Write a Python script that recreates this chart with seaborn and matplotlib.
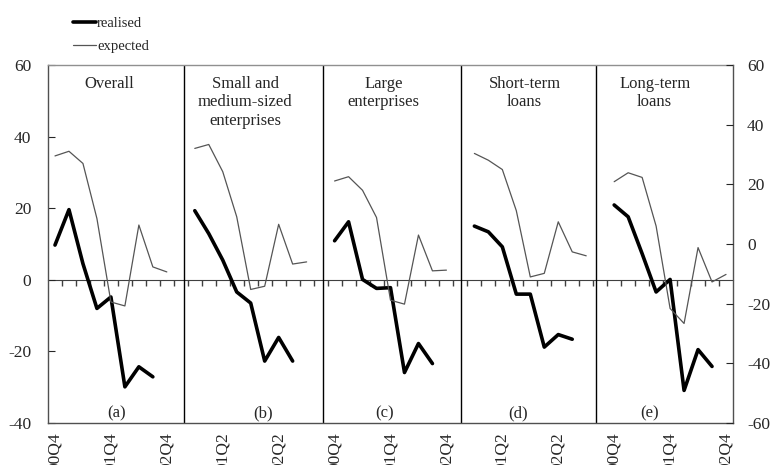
import numpy as np
import pandas as pd
import seaborn as sns
import matplotlib.pyplot as plt

# quarters shown in each panel (one blank slot between panels)
quarters = ["00Q4", "01Q1", "01Q2", "01Q3", "01Q4", "02Q1", "02Q2", "02Q3", "02Q4"]
panel_titles = ["Overall", "Small and\nmedium-sized\nenterprises",
                "Large\nenterprises", "Short-term\nloans", "Long-term\nloans"]
panel_letters = ["(a)", "(b)", "(c)", "(d)", "(e)"]

# realised (to 02Q3) and expected (to 02Q4) net percentages
realised_overall = [9.7, 19.6, 4.5, -8.0, -4.8, -29.9, -24.3, -27.1]
expected_overall = [34.6, 35.9, 32.5, 17.1, -6.2, -7.3, 15.3, 3.6, 2.2]
realised_sme = [19.3, 12.9, 5.5, -3.4, -6.5, -22.7, -16.1, -22.7]
expected_sme = [36.7, 37.8, 30.2, 17.6, -2.7, -1.8, 15.5, 4.4, 5.0]
realised_large = [10.9, 16.2, 0.1, -2.4, -2.2, -25.9, -17.8, -23.4]
expected_large = [27.6, 28.8, 25.0, 17.4, -5.7, -6.8, 12.5, 2.5, 2.7]
realised_short = [15.0, 13.4, 9.2, -4.0, -4.0, -18.8, -15.3, -16.6]
expected_short = [35.3, 33.4, 30.8, 19.3, 0.8, 1.8, 16.2, 7.8, 6.7]
realised_long = [20.9, 17.6, 7.3, -3.4, 0.1, -30.9, -19.5, -24.2]
expected_long = [27.4, 29.9, 28.6, 15.0, -8.0, -12.2, 9.0, -0.6, 1.5]

realised_all = [realised_overall, realised_sme, realised_large, realised_short, realised_long]
expected_all = [expected_overall, expected_sme, expected_large, expected_short, expected_long]

slots_per_panel = 10
n_slots = 4 * slots_per_panel + len(quarters)

rows = []
for p in range(len(panel_titles)):
    for name, values in (("realised", realised_all[p]), ("expected", expected_all[p])):
        for j, v in enumerate(values):
            rows.append({"panel": p, "series": name,
                         "slot": p * slots_per_panel + j, "value": v})
df = pd.DataFrame(rows)

slot_labels = []
for s in range(n_slots):
    j = s % slots_per_panel
    slot_labels.append(quarters[j] if j < len(quarters) else "")
label_slots = list(range(0, n_slots, 4))

sns.set_style("white")
plt.rcParams["font.family"] = ["Liberation Serif", "DejaVu Serif"]
plt.rcParams["axes.unicode_minus"] = False

fig = plt.figure(figsize=(7.73, 4.65), dpi=100)
ax = fig.add_axes([48 / 773, 42 / 465, 685 / 773, 358 / 465])

sns.lineplot(data=df, x="slot", y="value", hue="series", size="series",
             units="panel", estimator=None, hue_order=["realised", "expected"],
             palette={"realised": "black", "expected": "#555555"},
             sizes={"realised": 2.6, "expected": 0.9}, ax=ax)

ax.set_xlim(-0.5, n_slots - 0.5)
ax.set_ylim(-40, 60)
ax.set_yticks(range(-40, 61, 20))
ax.set_xlabel("")
ax.set_ylabel("")
ax.set_xticks(label_slots, [slot_labels[s] for s in label_slots], rotation=90)
ax.tick_params(axis="x", length=0, pad=7, labelsize=12.5)
ax.tick_params(axis="y", direction="in", length=5, pad=12, labelsize=12.5,
               left=True)
for sp in ax.spines.values():
    sp.set_color("#505050")
    sp.set_linewidth(1)
ax.spines["top"].set_color("#909090")

# zero line with category tick marks
zero_pos = (0 - (-40)) / (60 - (-40))
sec = ax.secondary_xaxis(zero_pos)
sec.set_xticks(np.arange(0.5, n_slots - 1, 1.0), labels=[])
sec.tick_params(direction="out", length=4, color="#404040", width=1)
sec.spines["bottom"].set_color("#404040")

# right-hand axis
ax2 = ax.twinx()
ax2.set_ylim(-60, 60)
ax2.set_yticks(range(-60, 61, 20))
ax2.tick_params(axis="y", direction="in", length=5, pad=10, labelsize=12.5,
                right=True)
for sp in ax2.spines.values():
    sp.set_visible(False)

# panel separators, titles and letters
for xs in [9.2, 19.15, 29.05, 38.7]:
    ax.axvline(xs, color="black", lw=1)
title_x = [3.9, 13.6, 23.5, 33.6, 42.9]
letter_x = [4.4, 14.9, 23.6, 33.1, 42.5]
for p in range(len(panel_titles)):
    ax.text(title_x[p], 57.0, panel_titles[p], ha="center", va="top",
            fontsize=12, linespacing=1.2)
    ax.text(letter_x[p], -37.3, panel_letters[p], ha="center", va="center",
            fontsize=12)

sns.move_legend(ax, "upper left", bbox_to_anchor=(73 / 773, 1 - 17 / 465),
                bbox_transform=fig.transFigure, frameon=False, title="",
                fontsize=10.5, handlelength=1.6, handletextpad=0.05,
                labelspacing=0.65, borderpad=0, borderaxespad=0)

fig.savefig("out.png", dpi=100)
